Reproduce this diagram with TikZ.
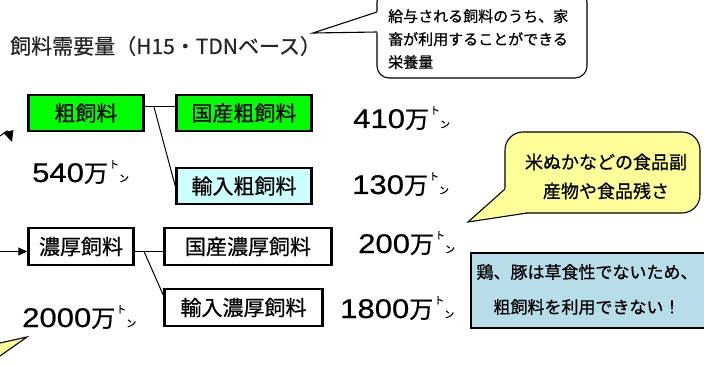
\documentclass[tikz,border=0pt]{standalone}
\usepackage{fontspec}
\usepackage{graphicx}
\setmainfont{Noto Sans CJK JP}[FakeBold=0.7]
\newfontfamily\numfont{Liberation Sans}[FakeBold=0.5]
\usetikzlibrary{arrows.meta,calc}
\definecolor{boxgreen}{HTML}{00FF00}
\definecolor{boxcyan}{HTML}{CCFFFF}
\definecolor{calloutyellow}{HTML}{FFFF99}
\definecolor{noteblue}{HTML}{B7DDE8}
\newcommand\tonsz{\fontsize{10}{10}\selectfont}
\newcommand\tonmark{\hspace{1pt}\raisebox{14pt}{\tonsz ト}\raisebox{0pt}{\tonsz ン}}
\newcommand\amount[1]{{\fontsize{27}{27}\selectfont\scalebox{1.15}[1]{\numfont #1}\fontsize{24}{24}\selectfont 万}\tonmark}
\tikzset{
  fbox/.style={draw=black, line width=2.5pt, inner sep=0pt, minimum height=36pt,
    font=\fontsize{21}{21}\selectfont, text=black},
  conn/.style={draw=black, line width=1pt},
  num/.style={anchor=base west, inner sep=0pt},
  callout/.style={draw=black, line width=1.1pt},
}
\begin{document}
\begin{tikzpicture}[x=1pt,y=-1pt]
\useasboundingbox (0,0) rectangle (704,366);
\clip (0,0) rectangle (704,366);

% title
\node[anchor=base west, inner sep=0pt, font=\fontsize{21}{21}\selectfont, text=black!85] (title) at (10,54) {飼料需要量（H15・TDNベース）};

% top callout
\draw[callout, fill=white, rounded corners=12pt] (377,-10) rectangle (587,78);
\fill[white] (313,33) -- (379,11) -- (379,32.5) -- cycle;
\draw[callout] (377,12) -- (313,33) -- (377,32);
\node[anchor=north west, inner sep=0pt, align=left, font=\fontsize{15}{23}\selectfont] (note1) at (388,9) {給与される飼料のうち、家\\畜が利用することができる\\栄養量};

% boxes
\node[fbox, fill=boxgreen, minimum width=115pt] (rough) at (86,113) {粗飼料};
\node[fbox, fill=boxgreen, minimum width=135pt] (drough) at (244,113) {国産粗飼料};
\node[fbox, fill=boxcyan, minimum width=135pt] (irough) at (244,186) {輸入粗飼料};
\node[fbox, fill=white, minimum width=105pt, minimum height=37pt] (conc) at (81,246.5) {濃厚飼料};
\node[fbox, fill=white, minimum width=167pt, minimum height=37pt] (dconc) at (248,246.5) {国産濃厚飼料};
\node[fbox, fill=white, minimum width=158pt, minimum height=37pt] (iconc) at (243.5,307.5) {輸入濃厚飼料};

% connectors
\coordinate (r1) at ([yshift=6pt]rough.east);
\draw[conn] (r1) -- (r1 -| drough.west);
\coordinate (r2) at (154,107);
\draw[conn] (r2) -- (irough.west);
\coordinate (c1) at ([yshift=-5pt]conc.east);
\draw[conn] (c1) -- (c1 -| dconc.west);
\coordinate (c2) at (144,251.5);
\draw[conn] (c2) -- ([yshift=12.5pt]iconc.west);

% incoming arrows
\coordinate (a0) at (0,251.5);
\draw[conn, -{Triangle[length=9pt,width=8pt]}] (a0) -- (a0 -| conc.west);
\coordinate (b0) at (0,136);
\coordinate (b1) at (12,142);
\draw[conn, -{Triangle[length=11pt,width=10pt]}] (b0) .. controls (8,130) .. (b1);

% numbers
\node[num] (n540) at (32,182) {\amount{540}};
\node[num] (n410) at (353,128) {\amount{410}};
\node[num] (n130) at (352,194) {\amount{130}};
\node[num] (n200) at (358,253) {\amount{200}};
\node[num] (n1800) at (340,318) {\amount{1800}};
\node[num] (n2000) at (22,327) {\amount{2000}};

% yellow callout
\draw[callout, fill=calloutyellow, rounded corners=18pt] (505,132) rectangle (700,213);
\fill[calloutyellow] (468,222) -- (506,188) -- (527,212.5) -- cycle;
\draw[callout] (505,189) -- (468,222) -- (527,213);
\node[align=center, inner sep=0pt, font=\fontsize{18}{29}\selectfont] (note2) at (606,176.5) {米ぬかなどの食品副\\産物や食品残さ};

% blue note
\node[draw=black, line width=1.5pt, fill=noteblue, minimum width=250pt, minimum height=75pt, anchor=north west, inner sep=0pt] (blue) at (470,252) {};
\node[align=center, inner sep=0pt, font=\fontsize{17}{35}\selectfont] (note3) at (587,289.5) {鶏、豚は草食性でないため、\\粗飼料を利用できない！};

% bottom-left callout tail
\fill[calloutyellow] (0,343) -- (27,337) -- (0,356) -- cycle;
\draw[callout] (0,343) -- (27,337) -- (0,356);
\end{tikzpicture}
\end{document}
